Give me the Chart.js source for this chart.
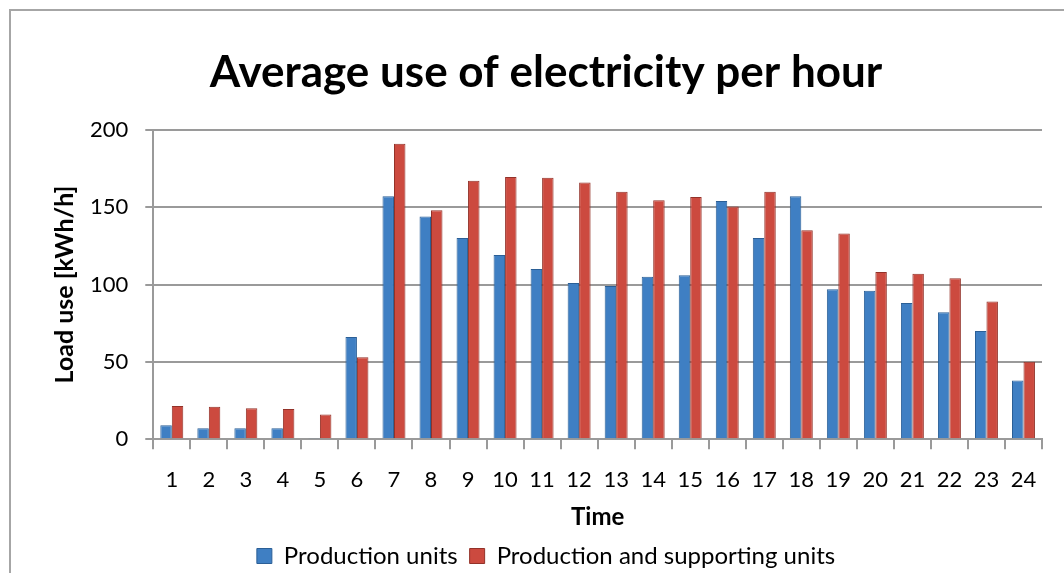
<!DOCTYPE html>
<html lang="en">
<head>
    <meta charset="UTF-8">
    <title>Average use of electricity per hour</title>
    <style>
        body {
            margin: 0;
            background: #fff;
            font-family: Lato, 'Open Sans', sans-serif;
        }
        .frame {
            position: absolute;
            left: 9px;
            top: 9px;
            width: 1100px;
            height: 600px;
            border: 2px solid #a6a6a6;
        }
        .chart-box {
            position: absolute;
            left: 0;
            top: 0;
            width: 1064px;
            height: 573px;
        }
    </style>
</head>
<body>
    <div class="frame"></div>
    <div class="chart-box">
        <canvas id="loadChart"></canvas>
    </div>

    <script src="https://cdn.jsdelivr.net/npm/chart.js"></script>
    <script>
        // hours of the day
        const hours = ['1', '2', '3', '4', '5', '6', '7', '8', '9', '10', '11', '12',
                       '13', '14', '15', '16', '17', '18', '19', '20', '21', '22', '23', '24'];

        // average load in kWh/h
        const productionUnits = [9, 7, 7, 7, 0.5, 66, 157, 144, 130, 119, 110, 101,
                                 99, 105, 106, 154, 130, 157, 97, 96, 88, 82, 70, 38];
        const productionAndSupporting = [21.5, 21, 20, 19.5, 16, 53, 191, 148, 167, 169.5, 169, 166,
                                         160, 154.5, 156.5, 150.5, 160, 135, 133, 108, 107, 104, 89, 50];

        const yTicks = [0, 50, 100, 150, 200];

        const ctx = document.getElementById('loadChart').getContext('2d');
        new Chart(ctx, {
            type: 'bar',
            data: {
                labels: hours,
                datasets: [{
                    label: 'Production units',
                    data: productionUnits,
                    backgroundColor: '#3f7fc3',
                    borderColor: '#2b5f96',
                    borderWidth: 1,
                    categoryPercentage: 0.62,
                    barPercentage: 1.0
                }, {
                    label: 'Production and supporting units',
                    data: productionAndSupporting,
                    backgroundColor: '#cc4a3f',
                    borderColor: '#933229',
                    borderWidth: 1,
                    categoryPercentage: 0.62,
                    barPercentage: 1.0
                }]
            },
            options: {
                responsive: true,
                maintainAspectRatio: false,
                animation: false,
                layout: {
                    padding: { left: 50, right: 22, top: 46, bottom: -5 }
                },
                scales: {
                    y: {
                        min: 0,
                        max: 200,
                        afterBuildTicks: axis => {
                            axis.ticks = yTicks.map(v => ({ value: v }));
                        },
                        grid: {
                            color: '#9a9a9a',
                            lineWidth: 2,
                            drawTicks: true,
                            tickLength: 8
                        },
                        border: { color: '#9a9a9a', width: 2 },
                        ticks: {
                            color: '#000',
                            font: { family: 'Lato', size: 22 },
                            padding: 17
                        },
                        title: {
                            display: true,
                            text: 'Load use [kWh/h]',
                            color: '#000',
                            font: { family: 'Lato', size: 25, weight: 'bold' },
                            padding: { top: 0, bottom: -7 }
                        }
                    },
                    x: {
                        grid: {
                            display: true,
                            drawOnChartArea: false,
                            offset: true,
                            color: '#9a9a9a',
                            lineWidth: 2,
                            tickLength: 10
                        },
                        border: { color: '#9a9a9a', width: 2 },
                        ticks: {
                            color: '#000',
                            font: { family: 'Lato', size: 22, lineHeight: 1.0 },
                            padding: 20
                        },
                        title: {
                            display: true,
                            text: 'Time',
                            color: '#000',
                            font: { family: 'Lato', size: 24, weight: 'bold' },
                            padding: { top: -8, bottom: 0 }
                        }
                    }
                },
                plugins: {
                    title: {
                        display: true,
                        text: 'Average use of electricity per hour',
                        color: '#000',
                        font: { family: 'Lato', size: 44, weight: 'bold' },
                        padding: { top: 0, bottom: 31 }
                    },
                    legend: {
                        position: 'bottom',
                        labels: {
                            color: '#000',
                            font: { family: 'Lato', size: 24 },
                            boxWidth: 15,
                            boxHeight: 15,
                            padding: 12
                        }
                    },
                    tooltip: { enabled: false }
                }
            }
        });
    </script>
</body>
</html>
